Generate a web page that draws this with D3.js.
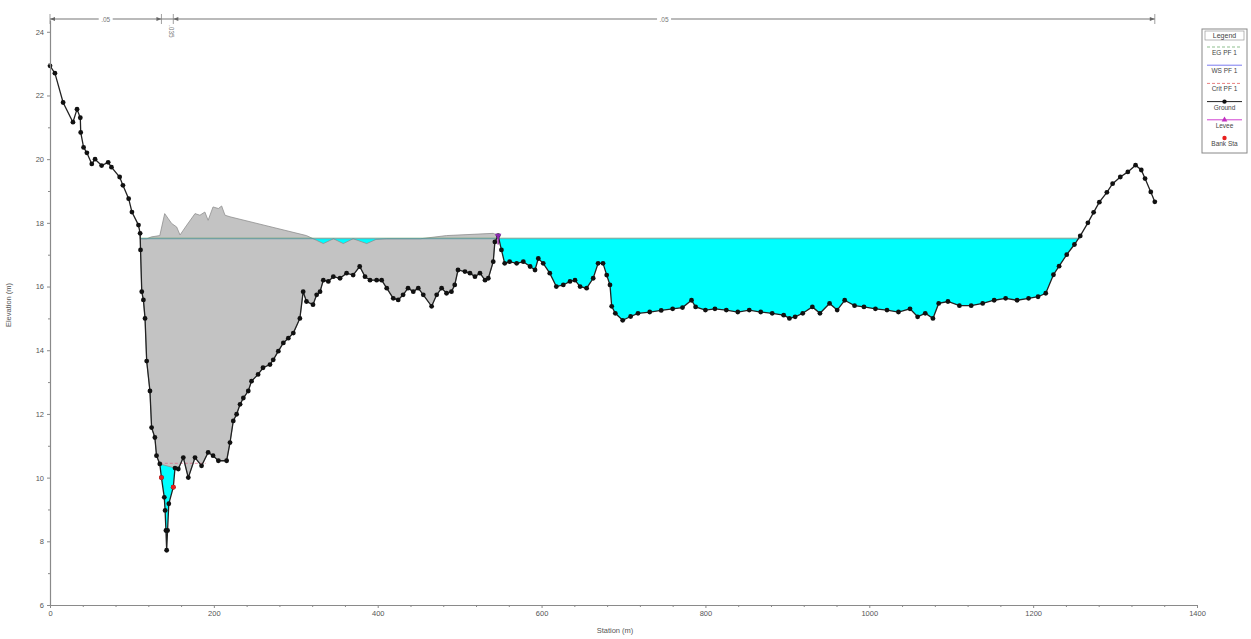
<!DOCTYPE html>
<html><head><meta charset="utf-8">
<script src="https://cdn.jsdelivr.net/npm/d3@7"></script>
<style>
body{margin:0;background:#fff;}
svg text{font-family:"Liberation Sans",Arial,sans-serif;}
</style></head>
<body><svg id="c" width="1251" height="639"></svg>
<script>
// ---- data ----
const ground = [
[0,22.93],[6,22.7],[16,21.78],[28,21.16],[33,21.57],[37,21.3],[37.5,20.84],[41,20.37],[45,20.2],[51,19.85],[55,20.0],[63,19.8],[71,19.9],[75,19.75],[85,19.44],[89,19.18],[96,18.76],[100,18.34],[108,17.93],[110,17.67],[110.5,17.15],[112,15.84],[114,15.58],[116,15.0],[118,13.66],[122,12.72],[124,11.57],[128,11.26],[130,10.69],[134,10.43],[136,10.0],[139.5,9.38],[140.5,8.97],[141.5,8.34],[142.4,7.72],[143.5,8.34],[145,9.18],[150.5,9.7],[152.6,10.3],[156.6,10.27],[162.7,10.63],[168.8,10.0],[177,10.63],[185,10.37],[193,10.79],[199,10.69],[205.5,10.53],[215.6,10.53],[219.7,11.1],[223.7,11.78],[227.8,11.99],[232,12.3],[236,12.5],[242,12.72],[246,13.03],[254,13.24],[260,13.45],[268.5,13.55],[272.5,13.7],[278.7,13.97],[284.8,14.23],[290.9,14.38],[297,14.54],[305,15.0],[309,15.84],[313,15.53],[321,15.43],[325.5,15.74],[329.6,15.84],[333.6,16.2],[339.7,16.16],[345.8,16.31],[354,16.26],[362,16.42],[370,16.36],[378,16.63],[384.5,16.31],[390.6,16.2],[398.7,16.2],[404.8,16.2],[411,15.95],[419,15.63],[425,15.58],[431,15.74],[437,15.95],[443.4,15.84],[449.5,15.95],[455.6,15.74],[465.8,15.38],[472,15.74],[478,15.95],[484,15.79],[490,15.84],[494,16.05],[498,16.52],[506.5,16.47],[512.6,16.42],[518.7,16.31],[524.8,16.42],[531,16.2],[535,16.26],[541,16.78],[543,17.4],[547,17.6],[551,17.15],[555,16.73],[561,16.78],[569.6,16.73],[577.7,16.78],[586,16.63],[592,16.52],[596,16.88],[602,16.73],[610,16.42],[618,16.0],[626.5,16.05],[634.7,16.16],[640.8,16.2],[647,16.0],[655,15.95],[663,16.26],[669,16.73],[675,16.73],[679.5,16.36],[683.5,16.05],[685.6,15.38],[690,15.16],[699,14.94],[708.7,15.06],[717.7,15.16],[732,15.2],[746,15.25],[760,15.3],[772,15.34],[783,15.57],[788,15.36],[800,15.26],[811.6,15.3],[825.5,15.26],[839.5,15.2],[853.5,15.26],[867.5,15.2],[881.5,15.16],[895.5,15.1],[902.5,15.0],[909.5,15.05],[918.8,15.16],[930.5,15.36],[939.8,15.16],[951.5,15.47],[960.8,15.26],[970,15.57],[982,15.4],[993.5,15.36],[1007.5,15.3],[1021.6,15.26],[1035.6,15.2],[1049.7,15.3],[1059,15.05],[1068.3,15.16],[1077.7,15.0],[1084.7,15.47],[1096,15.53],[1110,15.4],[1124.4,15.4],[1138.4,15.47],[1152.4,15.57],[1166.4,15.63],[1180.4,15.57],[1194.4,15.63],[1206,15.68],[1215.4,15.79],[1224.8,16.37],[1231.7,16.64],[1241,17.0],[1250.4,17.32],[1257.5,17.59],[1266.8,18.0],[1273.8,18.33],[1280.8,18.65],[1290,18.96],[1297,19.23],[1306.4,19.44],[1315.6,19.6],[1325,19.81],[1332,19.66],[1336.6,19.39],[1343.6,18.97],[1348.5,18.66]
];
const obstructionTop = [
[110,17.5],[118,17.5],[124,17.56],[134,17.6],[140,18.29],[144.4,18.13],[148.5,17.98],[154.6,17.87],[158.7,17.62],[162.7,17.77],[167,17.93],[177,18.29],[183,18.24],[189,18.34],[193,18.08],[199,18.5],[205.5,18.45],[209.5,18.53],[213.6,18.24],[219.7,18.19],[313,17.6],[325.5,17.45],[333.6,17.35],[346,17.5],[358,17.35],[370,17.5],[386.6,17.35],[398,17.48],[411,17.5],[452,17.5],[484,17.6],[541,17.67],[547,17.6]
];
const wsElev = 17.5;
const egElev = 17.52;
const critElev = 10.45;
const critRange = [134, 190];
const bankStations = [[136,10.0],[150.5,9.7]];
const levee = [[547,17.6]];
const nValues = [{from:0,to:136,label:".05"},{from:136,to:150.5,label:".035"},{from:150.5,to:1348.5,label:".05"}];
const yTicks = [6,8,10,12,14,16,18,20,22,24];
const xTicks = [0,200,400,600,800,1000,1200,1400];
const legendItems = ["EG PF 1","WS PF 1","Crit PF 1","Ground","Levee","Bank Sta"];

// ---- chart ----
const svg = d3.select("#c");
const x = d3.scaleLinear().domain([0,1400]).range([50,1197]);
const y = d3.scaleLinear().domain([6,24.37]).range([605,20]);
const stMin = ground[0][0], stMax = ground[ground.length-1][0];

// clip: region above ground
const aboveGround = ground.map(d=>[x(d[0]),y(d[1])]);
aboveGround.push([x(stMax), y(24.37)]); aboveGround.push([x(stMin), y(24.37)]);
svg.append("clipPath").attr("id","ag").append("path")
  .attr("d","M"+aboveGround.map(p=>p.join(",")).join("L")+"Z");

// water
svg.append("rect").attr("clip-path","url(#ag)")
  .attr("x",x(stMin)).attr("y",y(wsElev))
  .attr("width",x(stMax)-x(stMin)).attr("height",y(6)-y(wsElev))
  .attr("fill","#00ffff");

// obstruction (grey)
const gA = ground.filter(d=>d[0]>=152.6 && d[0]<=547).reverse();
const gB = ground.filter(d=>d[0]>=110 && d[0]<=134).reverse();
const obsPoly = obstructionTop.concat(gA, gB);
svg.append("path")
  .attr("d", d3.line().x(d=>x(d[0])).y(d=>y(d[1]))(obsPoly)+"Z")
  .attr("fill","#c3c3c3").attr("stroke","#8f8f8f").attr("stroke-width",0.8);

// EG & WS lines
const wsL = 110, wsR = 1257.5;
svg.append("line").attr("x1",x(wsL)).attr("x2",x(wsR)).attr("y1",y(egElev)).attr("y2",y(egElev))
  .attr("stroke","#5aa05a").attr("stroke-width",0.8).attr("opacity",0.8);
svg.append("line").attr("x1",x(wsL)).attr("x2",x(wsR)).attr("y1",y(wsElev)).attr("y2",y(wsElev))
  .attr("stroke","#4a8fb0").attr("stroke-width",0.8).attr("opacity",0.8);
// crit
svg.append("line").attr("x1",x(critRange[0])).attr("x2",x(critRange[1])).attr("y1",y(critElev)).attr("y2",y(critElev))
  .attr("stroke","#e06080").attr("stroke-width",1).attr("stroke-dasharray","3,2").attr("opacity",0.7);

// ground line
svg.append("path").attr("d", d3.line().x(d=>x(d[0])).y(d=>y(d[1]))(ground))
  .attr("fill","none").attr("stroke","#222").attr("stroke-width",1.3);
svg.append("g").selectAll("circle").data(ground).join("circle")
  .attr("cx",d=>x(d[0])).attr("cy",d=>y(d[1])).attr("r",2.4).attr("fill","#111");

// bank stations
svg.append("g").selectAll("circle").data(bankStations).join("circle")
  .attr("cx",d=>x(d[0])).attr("cy",d=>y(d[1])).attr("r",2.4).attr("fill","#e8201e");
// levee
levee.forEach(d=>{
  svg.append("line").attr("x1",x(d[0])).attr("x2",x(d[0])).attr("y1",y(d[1])-1).attr("y2",y(d[1])+9)
    .attr("stroke","#9a2aa0").attr("stroke-width",1.5);
  svg.append("path").attr("d",d3.symbol(d3.symbolTriangle,18)()).attr("transform",`translate(${x(d[0])},${y(d[1])}) rotate(180)`)
    .attr("fill","#8a2ab0");
});

// axes
const axCol = "#8a8a8a";
svg.append("g").attr("transform","translate(50,0)")
  .call(d3.axisLeft(y).tickValues(yTicks).tickSize(3).tickSizeOuter(0).tickFormat(d3.format("d")));
svg.append("g").attr("transform","translate(50,0)")
  .call(d3.axisLeft(y).tickValues(d3.range(7,25,2)).tickSize(2).tickSizeOuter(0).tickFormat(""))
  .select(".domain").remove();
svg.append("g").attr("transform","translate(0,605)")
  .call(d3.axisBottom(x).tickValues(xTicks).tickSize(3).tickSizeOuter(0).tickFormat(d3.format("d")));
svg.append("g").attr("transform","translate(0,605)")
  .call(d3.axisBottom(x).tickValues(d3.range(0,1401,40).filter(v=>v%200)).tickSize(2).tickSizeOuter(0).tickFormat(""))
  .select(".domain").remove();
svg.selectAll(".domain").attr("stroke",axCol).attr("stroke-width",1.2);
svg.selectAll(".tick line").attr("stroke",axCol);
svg.selectAll(".tick text").attr("fill","#555").attr("font-size",7.5);

// axis titles
svg.append("text").attr("x",615).attr("y",633).attr("text-anchor","middle").attr("font-size",7.5).attr("fill","#555").text("Station (m)");
svg.append("text").attr("transform","translate(11,305) rotate(-90)").attr("text-anchor","middle").attr("font-size",7.5).attr("fill","#555").text("Elevation (m)");

// n-value line at top
const ny = 19;
svg.append("line").attr("x1",x(stMin)).attr("x2",x(stMax)).attr("y1",ny).attr("y2",ny).attr("stroke","#777").attr("stroke-width",1.2);
[stMin, bankStations[0][0], bankStations[1][0], stMax].forEach(s=>{
  svg.append("line").attr("x1",x(s)).attr("x2",x(s)).attr("y1",ny-5).attr("y2",ny+5).attr("stroke","#888").attr("stroke-width",0.8);
});
const arrows = [[stMin,1],[bankStations[0][0],-1],[bankStations[1][0],1],[stMax,-1]];
arrows.forEach(([s,dir])=>{
  const px = x(s);
  svg.append("path").attr("d",`M${px},${ny} L${px+dir*5},${ny-2} L${px+dir*5},${ny+2} Z`).attr("fill","#666");
});
nValues.forEach(n=>{
  const cx = (x(n.from)+x(n.to))/2;
  if (n.to-n.from < 40) {
    svg.append("text").attr("transform",`translate(${cx+2},${ny+6}) rotate(90)`).attr("font-size",6.5).attr("fill","#777").text(n.label);
  } else {
    svg.append("rect").attr("x",cx-7).attr("y",ny-4).attr("width",14).attr("height",8).attr("fill","#fff");
    svg.append("text").attr("x",cx).attr("y",ny+2.5).attr("text-anchor","middle").attr("font-size",6.5).attr("fill","#777").text(n.label);
  }
});

// legend
const lg = svg.append("g").attr("transform","translate(1202,29)");
lg.append("rect").attr("width",45).attr("height",124).attr("fill","#fff").attr("stroke","#888");
lg.append("rect").attr("x",3).attr("y",2).attr("width",39).attr("height",9).attr("fill","#fff").attr("stroke","#999").attr("stroke-width",0.7);
lg.append("text").attr("x",22.5).attr("y",9).attr("text-anchor","middle").attr("font-size",7).attr("fill","#444").text("Legend");
const lStyles = [
  {c:"#8fbf8f",dash:"3,2"},{c:"#7a7af0",dash:null},{c:"#e88080",dash:"3,2"},
  {c:"#222",dash:null,m:"circle"},{c:"#d040d0",dash:null,m:"tri"},{c:null,m:"bank"}];
legendItems.forEach((t,i)=>{
  const ly = 18 + i*18.2;
  const s = lStyles[i];
  if (s.c) lg.append("line").attr("x1",5).attr("x2",40).attr("y1",ly).attr("y2",ly).attr("stroke",s.c).attr("stroke-width",1).attr("stroke-dasharray",s.dash);
  if (s.m==="circle") lg.append("circle").attr("cx",22.5).attr("cy",ly).attr("r",2.2).attr("fill","#111");
  if (s.m==="tri") lg.append("path").attr("d",d3.symbol(d3.symbolTriangle,14)()).attr("transform",`translate(22.5,${ly})`).attr("fill","#c030c0");
  if (s.m==="bank") lg.append("circle").attr("cx",22.5).attr("cy",ly).attr("r",2.2).attr("fill","#e8201e");
  lg.append("text").attr("x",22.5).attr("y",ly+8).attr("text-anchor","middle").attr("font-size",6.5).attr("fill","#444").text(t);
});
</script>
</body></html>
